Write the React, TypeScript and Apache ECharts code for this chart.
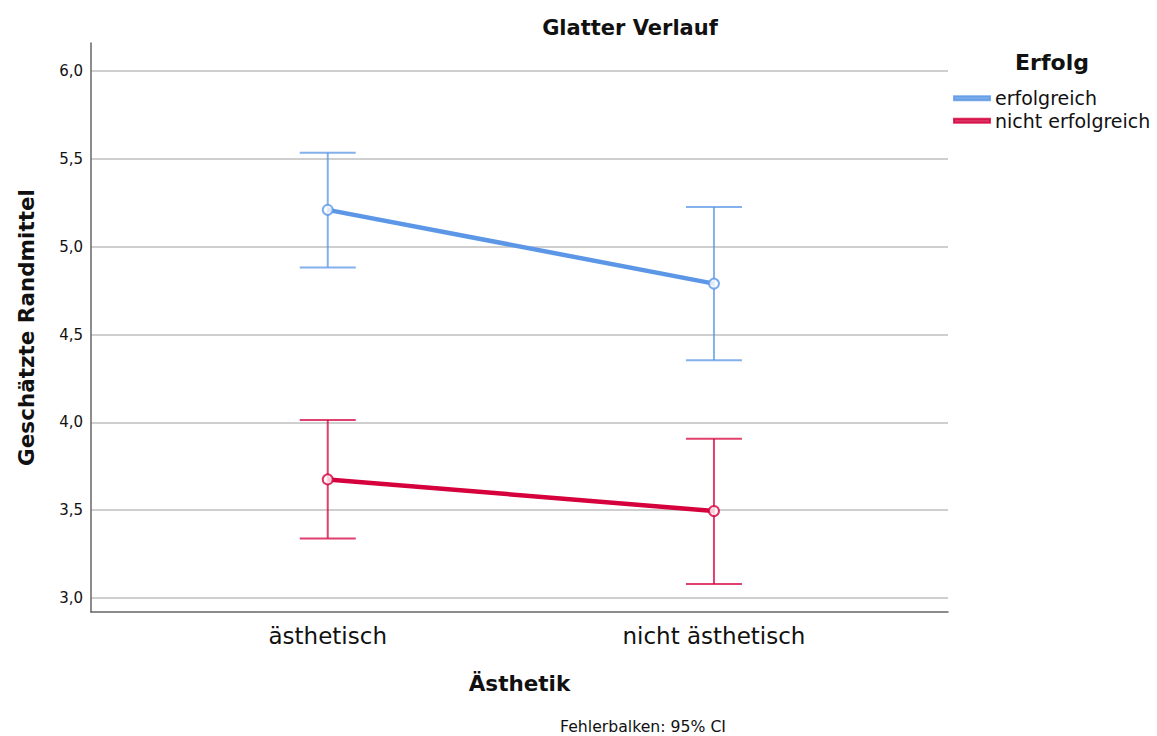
import React, { useEffect, useRef } from "react";
import * as echarts from "echarts";

const categories = ["ästhetisch", "nicht ästhetisch"];
const groups = ["erfolgreich", "nicht erfolgreich"];
const means = [
  [5.21, 4.79],
  [3.675, 3.495],
];
const ciLow = [
  [4.882, 4.354],
  [3.339, 3.08],
];
const ciHigh = [
  [5.535, 5.226],
  [4.013, 3.906],
];
const yTicks = [3.0, 3.5, 4.0, 4.5, 5.0, 5.5, 6.0];
const colors = ["#5b97e6", "#d5003c"];
const FONT = "DejaVu Sans";

export default function App() {
  const ref = useRef<HTMLDivElement>(null);
  useEffect(() => {
    if (!ref.current) return;
    const chart = echarts.init(ref.current, undefined, { renderer: "svg" });
    const catPos = categories.map((_, i) => i + 1);
    const series: any[] = [];
    groups.forEach((g, gi) => {
      series.push({
        type: "custom",
        name: g + " CI",
        z: 1,
        encode: { x: 0, y: [1, 2] },
        data: catPos.map((x, ci) => [x, ciLow[gi][ci], ciHigh[gi][ci]]),
        renderItem: (params: any, api: any) => {
          const x = api.value(0);
          const lo = api.coord([x, api.value(1)]);
          const hi = api.coord([x, api.value(2)]);
          const w = 28;
          const st = { stroke: colors[gi], lineWidth: 2, opacity: 0.75 };
          return {
            type: "group",
            children: [
              { type: "line", shape: { x1: lo[0], y1: lo[1], x2: hi[0], y2: hi[1] }, style: st },
              { type: "line", shape: { x1: lo[0] - w, y1: lo[1], x2: lo[0] + w, y2: lo[1] }, style: st },
              { type: "line", shape: { x1: hi[0] - w, y1: hi[1], x2: hi[0] + w, y2: hi[1] }, style: st },
            ],
          };
        },
      });
    });
    groups.forEach((g, gi) => {
      series.push({
        type: "line",
        name: g,
        z: 3,
        data: catPos.map((x, ci) => [x, means[gi][ci]]),
        symbol: "emptyCircle",
        symbolSize: 10,
        lineStyle: { color: colors[gi], width: 4.5 },
        itemStyle: { color: colors[gi], borderColor: colors[gi], borderWidth: 1.2, opacity: 0.8 },
        color: colors[gi],
      });
    });
    chart.setOption({
      animation: false,
      backgroundColor: "#ffffff",
      textStyle: { fontFamily: FONT },
      title: {
        text: "Glatter Verlauf",
        left: 625,
        top: 12,
        textAlign: "center",
        textStyle: { fontFamily: FONT, fontSize: 21, fontWeight: "bold", color: "#111" },
      },
      legend: {
        data: groups.map((g, gi) => ({ name: g, itemStyle: { color: colors[gi] } })),
        orient: "vertical",
        left: 953,
        top: 87,
        padding: 0,
        itemGap: 0,
        icon: "rect",
        itemWidth: 36,
        itemHeight: 4,
        textStyle: { fontFamily: FONT, fontSize: 19, color: "#111", lineHeight: 22.5 },
      },
      grid: { left: 91, right: 209, top: 43, bottom: 124, containLabel: false },
      xAxis: {
        type: "value",
        min: 0.387,
        max: 2.606,
        name: "Ästhetik",
        nameLocation: "middle",
        nameGap: 60,
        nameTextStyle: { fontFamily: FONT, fontSize: 21.5, fontWeight: "bold", color: "#111" },
        axisLine: { show: true, onZero: false, lineStyle: { color: "#666", width: 1.5 } },
        axisTick: { show: false, customValues: catPos },
        splitLine: { show: false },
        axisLabel: {
          customValues: catPos,
          margin: 12,
          fontFamily: FONT,
          fontSize: 23,
          color: "#111",
          formatter: (v: number) => categories[Math.round(v) - 1] ?? "",
        },
      },
      yAxis: {
        type: "value",
        min: 2.92,
        max: 6.16,
        name: "Geschätzte Randmittel",
        nameLocation: "middle",
        nameGap: 54,
        nameTextStyle: { fontFamily: FONT, fontSize: 21.5, fontWeight: "bold", color: "#111" },
        axisLine: { show: true, lineStyle: { color: "#666", width: 1.5 } },
        axisTick: { show: false, customValues: yTicks },
        splitLine: { show: true, lineStyle: { color: "#cfcfcf", width: 1.8 } },
        axisLabel: {
          customValues: yTicks,
          margin: 8,
          fontFamily: FONT,
          fontSize: 15,
          color: "#111",
          formatter: (v: number) => v.toFixed(1).replace(".", ","),
        },
      },
      graphic: [
        {
          type: "text",
          x: 1052,
          y: 62,
          style: {
            text: "Erfolg",
            font: `bold 22px "${FONT}"`,
            fill: "#111",
            align: "center",
            verticalAlign: "middle",
          },
        },
        {
          type: "text",
          x: 643,
          y: 726,
          style: {
            text: "Fehlerbalken: 95% CI",
            font: `15.7px "${FONT}"`,
            fill: "#111",
            align: "center",
            verticalAlign: "middle",
          },
        },
      ],
      series,
    });
    return () => chart.dispose();
  }, []);
  return (
    <div
      ref={ref}
      style={{ position: "fixed", left: 0, top: 0, width: 1157, height: 736 }}
    />
  );
}
